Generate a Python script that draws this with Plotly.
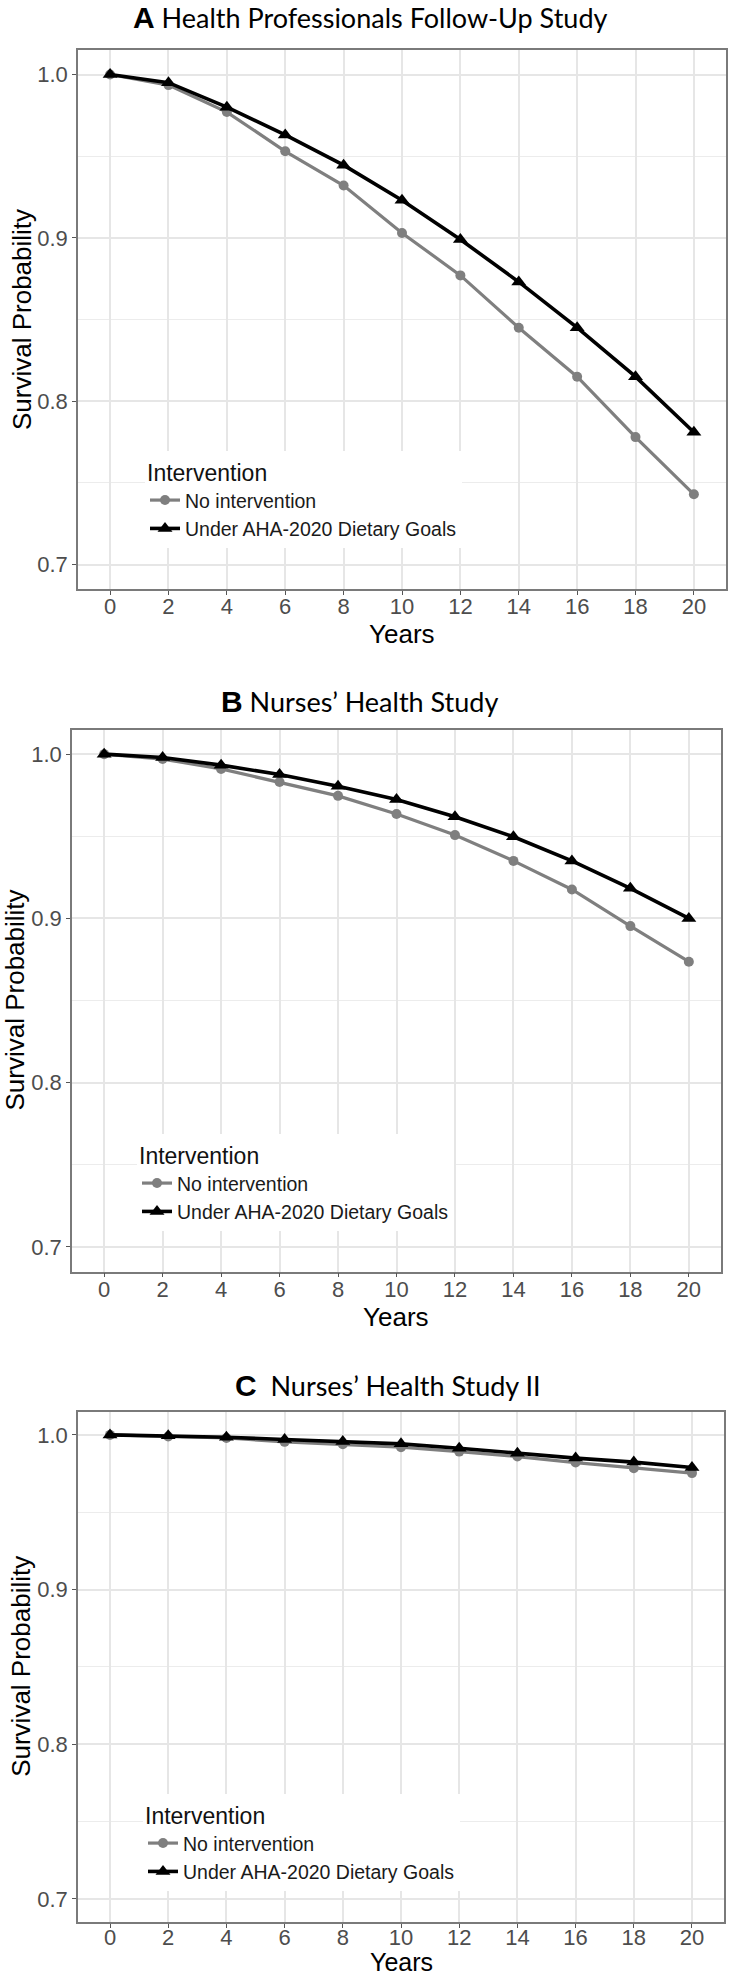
import plotly.graph_objects as go

# ---------------- data ----------------
years = [0, 2, 4, 6, 8, 10, 12, 14, 16, 18, 20]
series_names = ["No intervention", "Under AHA-2020 Dietary Goals"]

hpfs_no = [1.000, 0.9935, 0.977, 0.953, 0.932, 0.903, 0.877, 0.845, 0.815, 0.778, 0.743]
hpfs_aha = [1.000, 0.995, 0.980, 0.963, 0.9445, 0.923, 0.899, 0.873, 0.845, 0.815, 0.781]

nhs_no = [1.000, 0.997, 0.991, 0.983, 0.9746, 0.9635, 0.9507, 0.935, 0.9176, 0.8953, 0.8736]
nhs_aha = [1.000, 0.998, 0.9933, 0.9876, 0.9805, 0.9724, 0.9619, 0.9497, 0.935, 0.9183, 0.900]

nhs2_no = [1.000, 0.999, 0.998, 0.9955, 0.994, 0.992, 0.9892, 0.986, 0.9821, 0.9785, 0.9753]
nhs2_aha = [1.000, 0.9995, 0.9985, 0.997, 0.9957, 0.9942, 0.9914, 0.9882, 0.985, 0.9824, 0.9789]

panel_letters = ["A", "B", "C"]
panel_titles = ["Health Professionals Follow-Up Study", "Nurses’ Health Study", " Nurses’ Health Study II"]
y_ticks = [0.7, 0.8, 0.9, 1.0]
y_minor = [0.75, 0.85, 0.95]
x_ticks = years
legend_title = "Intervention"
x_title = "Years"
y_title = "Survival Probability"

# ---------------- layout geometry (pixels) ----------------
W, H = 731, 1978
panels = [
    dict(x0=78, x1=726, y0=50, y1=589, leg_l=145, leg_top=451, ytit_x=21.5,
         title_x=131, title_y=17, xtit_dy=45, xtit_size=26, standoff=-7,
         data=(hpfs_no, hpfs_aha)),
    dict(x0=72, x1=721, y0=729.5, y1=1271.5, leg_l=137, leg_top=1134, ytit_x=14,
         title_x=219, title_y=702, xtit_dy=45, xtit_size=26, standoff=-7,
         data=(nhs_no, nhs_aha)),
    dict(x0=78, x1=724, y0=1411.7, y1=1922, leg_l=143, leg_top=1794, ytit_x=21,
         title_x=233, title_y=1385, xtit_dy=40, xtit_size=25, standoff=-9,
         data=(nhs2_no, nhs2_aha)),
]

def px(x):
    return x / W

def py(y):
    return 1 - y / H

GRAY = "#7F7F7F"
BLACK = "#000000"
FONT = "Liberation Sans, Arial, sans-serif"

fig = go.Figure()
annotations = []
layout_axes = {}

for i, p in enumerate(panels):
    n = "" if i == 0 else str(i + 1)
    xa, ya = "x" + n, "y" + n
    leg = "legend" + n
    no_vals, aha_vals = p["data"]
    fig.add_trace(go.Scatter(
        x=years, y=no_vals, mode="lines+markers", name=series_names[0],
        xaxis=xa, yaxis=ya, legend=leg,
        line=dict(color=GRAY, width=3.2),
        marker=dict(symbol="circle", size=10, color=GRAY),
    ))
    fig.add_trace(go.Scatter(
        x=years, y=aha_vals, mode="lines+markers", name=series_names[1],
        xaxis=xa, yaxis=ya, legend=leg,
        line=dict(color=BLACK, width=3.6),
        marker=dict(symbol="triangle-up", size=13, color=BLACK),
    ))
    common = dict(showline=True, mirror=True, linecolor="#7a7a7a", linewidth=1.5,
                  ticks="outside", ticklen=4, tickwidth=1.2, tickcolor="#555555",
                  gridcolor="#E6E6E6", gridwidth=1.5, zeroline=False,
                  tickfont=dict(family=FONT, size=22, color="#4D4D4D"))
    layout_axes["xaxis" + n] = dict(
        common, domain=[px(p["x0"]), px(p["x1"])], range=[-1.1, 21.1],
        tickmode="array", tickvals=x_ticks, anchor=ya, ticklabelstandoff=p["standoff"],
    )
    layout_axes["yaxis" + n] = dict(
        common, domain=[py(p["y1"]), py(p["y0"])], range=[0.685, 1.015],
        tickmode="array", tickvals=y_ticks, tickformat=".1f", anchor=xa,
        minor=dict(tickmode="array", tickvals=y_minor, showgrid=True,
                   gridcolor="#ECECEC", gridwidth=1.2, ticks=""),
    )
    layout_axes[leg] = dict(
        x=px(p["leg_l"]), y=py(p["leg_top"]), xanchor="left", yanchor="top",
        bgcolor="white", borderwidth=0,
        title=dict(text=legend_title, font=dict(family=FONT, size=23, color="#111111")),
        font=dict(family=FONT, size=19.5, color="#1a1a1a"),
        traceorder="normal",
    )
    # panel title
    annotations.append(dict(
        x=px(p["title_x"]), y=py(p["title_y"]), xref="paper", yref="paper",
        xanchor="left", yanchor="middle", showarrow=False,
        text=("<span style='font-family:Liberation Sans, Arial; font-weight:bold; font-size:30px'>"
              + panel_letters[i] + "</span> " + panel_titles[i]),
        font=dict(family="Lato, Open Sans, sans-serif", size=27, color="#000000"),
    ))
    # x axis title
    annotations.append(dict(
        x=px((p["x0"] + p["x1"]) / 2), y=py(p["y1"] + p["xtit_dy"]), xref="paper", yref="paper",
        xanchor="center", yanchor="middle", showarrow=False, text=x_title,
        font=dict(family=FONT, size=p["xtit_size"], color="#000000"),
    ))
    # y axis title
    annotations.append(dict(
        x=px(p["ytit_x"]), y=py((p["y0"] + p["y1"]) / 2), xref="paper", yref="paper",
        xanchor="center", yanchor="middle", showarrow=False, text=y_title,
        textangle=-90, font=dict(family=FONT, size=26, color="#000000"),
    ))

fig.update_layout(
    width=W, height=H, margin=dict(l=0, r=0, t=0, b=0),
    paper_bgcolor="white", plot_bgcolor="white",
    annotations=annotations, **layout_axes,
)

fig.write_html(
    "out.html",
    config={"displayModeBar": False},
    post_script="document.body.style.margin='0';document.body.style.padding='0';"
                "document.documentElement.style.overflow='hidden';",
)
